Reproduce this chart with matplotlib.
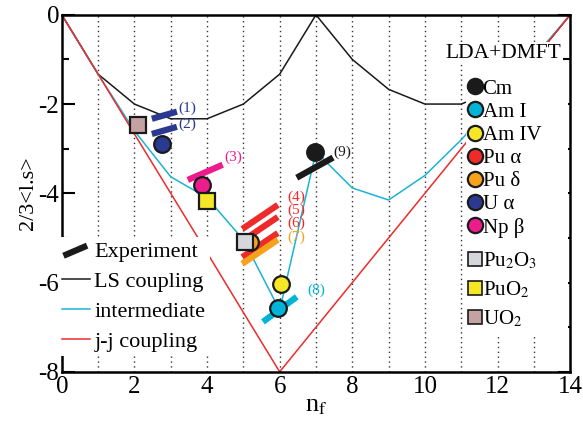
import numpy as np
import matplotlib
matplotlib.use("Agg")
import matplotlib.pyplot as plt
from matplotlib.lines import Line2D
from matplotlib.patches import Rectangle
from matplotlib.legend_handler import HandlerBase

plt.rcParams['font.family'] = ['Liberation Serif', 'DejaVu Serif']
plt.rcParams['mathtext.fontset'] = 'stix'
plt.rcParams['axes.unicode_minus'] = False

# model curves
nf = list(range(15))
ls_coupling = [0, -1.33, -2, -2.33, -2.33, -2, -1.33, 0, -1, -1.67, -2, -2, -1.67, -1, 0]
intermediate = [0, -1.33, -2.6, -3.63, -4.1, -5.04, -6.62, -3.07, -3.88, -4.15, -3.6, -2.8, -1.9, -0.95, 0]
jj_coupling = [0, -1.33, -2.67, -4, -5.33, -6.67, -8, -7, -6, -5, -4, -3, -2, -1, 0]

# experiment bars
exp_labels = ['(1)', '(2)', '(3)', '(4)', '(5)', '(6)', '(7)', '(8)', '(9)']
exp_x0 = [2.48, 2.48, 3.47, 4.97, 4.97, 4.97, 4.97, 5.54, 6.47]
exp_x1 = [3.17, 3.17, 4.43, 5.95, 5.95, 5.95, 5.95, 6.47, 7.47]
exp_y0 = [-2.33, -2.67, -3.70, -4.80, -5.07, -5.43, -5.58, -6.88, -3.65]
exp_y1 = [-2.17, -2.51, -3.36, -4.26, -4.53, -4.89, -5.04, -6.32, -3.20]
exp_colors = ['#2b3990', '#2b3990', '#ec1c8c', '#ee2b2b', '#ee2b2b', '#ee2b2b', '#f7a21b', '#00b4d8', '#1a1a1a']
lab_x = [3.2, 3.2, 4.48, 6.2, 6.2, 6.2, 6.2, 6.75, 7.47]
lab_y = [-2.1, -2.45, -3.2, -4.08, -4.37, -4.67, -4.99, -6.17, -3.07]

# LDA+DMFT results
calc_names = ['Cm', 'Am I', 'Am IV', 'Pu α', 'Pu δ', 'U α', 'Np β',
              r'Pu$_2$O$_3$', r'PuO$_2$', r'UO$_2$']
calc_x = [6.97, 5.95, 6.03, np.nan, 5.18, 2.75, 3.86, 5.04, 4.0, 2.1]
calc_y = [-3.07, -6.57, -6.03, np.nan, -5.09, -2.9, -3.81, -5.09, -4.17, -2.47]
calc_colors = ['#1a1a1a', '#00b4d8', '#f5e626', '#ee2b2b', '#f7a21b', '#2b3990', '#ec1c8c',
               '#d6d7dd', '#f5e626', '#c4a2a2']
calc_markers = ['o', 'o', 'o', 'o', 'o', 'o', 'o', 's', 's', 's']


class SlantHandler(HandlerBase):
    def create_artists(self, legend, orig_handle, xdescent, ydescent, width, height, fontsize, trans):
        l = Line2D([-xdescent + 0.05 * width, -xdescent + 0.9 * width],
                   [-ydescent + 0.1 * height, -ydescent + 0.75 * height],
                   color=orig_handle.get_color(), lw=orig_handle.get_linewidth(),
                   solid_capstyle='butt', transform=trans)
        return [l]


fig = plt.figure(figsize=(5.83, 4.23), dpi=100)
ax = fig.add_axes([0.106, 0.121, 0.872, 0.844])

for x in range(1, 14):
    ax.axvline(x, color='#333333', lw=1.0, ls=(0, (1, 2.5)), zorder=0)

l_ls, = ax.plot(nf, ls_coupling, color='#1a1a1a', lw=1.1, zorder=2)
l_int, = ax.plot(nf, intermediate, color='#1ab3d6', lw=1.1, zorder=2)
l_jj, = ax.plot(nf, jj_coupling, color='#ee2b2b', lw=1.1, zorder=2)

for i in range(len(exp_labels)):
    ax.plot([exp_x0[i], exp_x1[i]], [exp_y0[i], exp_y1[i]], color=exp_colors[i], lw=4.5,
            solid_capstyle='butt', zorder=4)
    ax.text(lab_x[i], lab_y[i], exp_labels[i], color=exp_colors[i], fontsize=11,
            va='center', ha='left', zorder=6)

order = [4, 7, 0, 1, 2, 3, 5, 6, 8, 9]
for i in order:
    ax.plot(calc_x[i], calc_y[i], marker=calc_markers[i], ms=12, mfc=calc_colors[i],
            mec='#1a1a1a', mew=1.6, ls='none', zorder=5)

calc_handles = []
for i in range(len(calc_names)):
    h = Line2D([], [], marker=calc_markers[i], ms=11 if calc_markers[i] == 'o' else 10,
               mfc=calc_colors[i], mec='#1a1a1a', mew=1.6 if calc_markers[i] == 'o' else 1.2,
               ls='none')
    calc_handles.append(h)

# white panel behind the LDA+DMFT key
ax.add_patch(Rectangle((0.795, 0.104), 0.2, 0.764, transform=ax.transAxes,
                       facecolor='white', edgecolor='none', zorder=2.5))

exp_handle = Line2D([], [], color='#1a1a1a', lw=4.5)
leg1 = ax.legend([exp_handle, l_ls, l_int, l_jj],
                 ['Experiment', 'LS coupling', 'intermediate', 'j-j coupling'],
                 loc='lower left', bbox_to_anchor=(-0.03, 0.012), fontsize=16,
                 handlelength=1.25, handletextpad=0.2, labelspacing=0.42,
                 frameon=True, facecolor='white', edgecolor='none', framealpha=1,
                 borderpad=0.2, handler_map={exp_handle: SlantHandler()})
leg1.set_zorder(3)
ax.add_artist(leg1)

leg2 = ax.legend(calc_handles[:7], calc_names[:7], loc='upper left', bbox_to_anchor=(0.795, 0.826),
                 fontsize=15, handlelength=0.65, handletextpad=0.05, labelspacing=0.17,
                 frameon=False, borderpad=0.1, borderaxespad=0)
leg2.set_zorder(3)
ax.add_artist(leg2)

leg3 = ax.legend(calc_handles[7:], calc_names[7:], loc='upper left', bbox_to_anchor=(0.795, 0.345),
                 fontsize=15, handlelength=0.65, handletextpad=0.05, labelspacing=0.4,
                 frameon=False, borderpad=0.1, borderaxespad=0)
leg3.set_zorder(3)

ax.text(0.983, 0.893, 'LDA+DMFT', transform=ax.transAxes, ha='right', va='center',
        fontsize=15.5, zorder=3, bbox=dict(facecolor='white', edgecolor='none', pad=1))

ax.set_xlim(0, 14)
ax.set_ylim(-8, 0)
ax.set_xticks([0, 2, 4, 6, 8, 10, 12, 14])
ax.set_yticks([0, -2, -4, -6, -8])
ax.set_yticks([-1, -3, -5, -7], minor=True)
ax.tick_params(axis='x', length=0, labelsize=18, pad=3)
ax.tick_params(axis='y', which='major', direction='in', length=9, width=1.5,
               right=True, labelsize=18, pad=2)
ax.tick_params(axis='y', which='minor', direction='in', length=5, width=1.5, right=True)
for s in ax.spines.values():
    s.set_linewidth(1.8)

ax.set_xlabel(r'n$_\mathrm{f}$', fontsize=19, labelpad=-2)
ax.set_ylabel('2/3<l.s>', fontsize=16, labelpad=0)

fig.savefig('out.png', dpi=100)
